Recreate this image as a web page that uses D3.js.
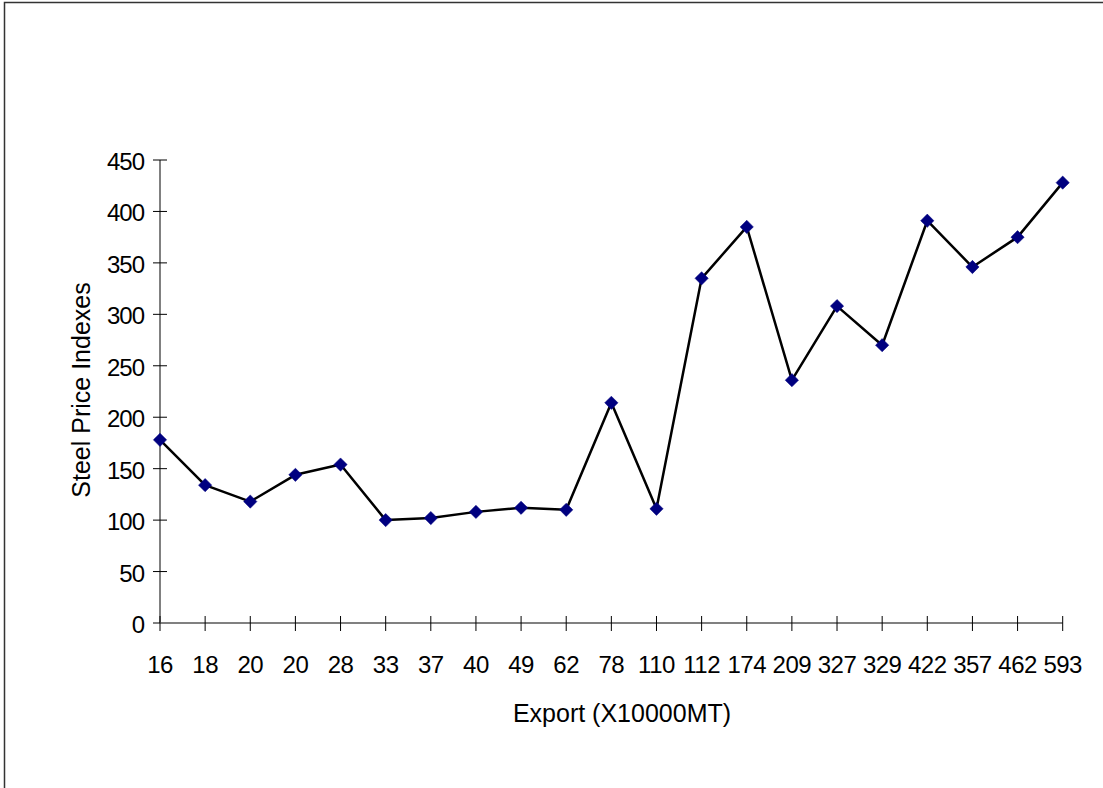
<!DOCTYPE html>
<html>
<head>
<meta charset="utf-8">
<script src="https://cdn.jsdelivr.net/npm/d3@7"></script>
<style>
  html, body { margin: 0; padding: 0; background: #fff; }
  svg { display: block; }
  text { font-family: Arial, "Liberation Sans", sans-serif; fill: #000; }
</style>
</head>
<body>
<svg id="chart" width="1103" height="788"></svg>
<script>
// Export volume (x10000 MT) used as category labels, in time order
const exportLabels = ["16","18","20","20","28","33","37","40","49","62","78","110","112","174","209","327","329","422","357","462","593"];
// Steel price index for each period
const priceIndex = [178,134,118,144,154,100,102,108,112,110,214,111,335,385,236,308,270,391,346,375,428];
const yTicks = [0,50,100,150,200,250,300,350,400,450];

const svg = d3.select("#chart");
const W = 1103, H = 788;

// frame around the chart area
svg.append("path")
  .attr("d", `M4.5,${H} V2.5 H${W}`)
  .attr("fill", "none").attr("stroke", "#333").attr("stroke-width", 1.5);

const plot = { left: 160, right: 1062.7, top: 160, bottom: 623 };

const idx = exportLabels.map((d, i) => i);
const x = d3.scalePoint().domain(idx).range([plot.left, plot.right]);
const y = d3.scaleLinear().domain([0, 450]).range([plot.bottom, plot.top]);

// Y axis
const gy = svg.append("g").attr("transform", `translate(${plot.left},0)`);
gy.append("line").attr("x1", 0).attr("x2", 0).attr("y1", y(0)).attr("y2", y(450))
  .attr("stroke", "#808080").attr("stroke-width", 2);
gy.selectAll("line.tick").data(yTicks).join("line").attr("class", "tick")
  .attr("x1", -7).attr("x2", 7).attr("y1", d => y(d)).attr("y2", d => y(d))
  .attr("stroke", "#000").attr("stroke-width", 1);
gy.selectAll("text").data(yTicks).join("text")
  .attr("x", -16).attr("y", d => y(d) + 10)
  .attr("text-anchor", "end").attr("font-size", 24)
  .attr("letter-spacing", -1)
  .text(d => d);

// X axis
const gx = svg.append("g").attr("transform", `translate(0,${plot.bottom})`);
gx.append("line").attr("x1", plot.left).attr("x2", plot.right).attr("y1", 0).attr("y2", 0)
  .attr("stroke", "#808080").attr("stroke-width", 2);
gx.selectAll("line.tick").data(idx).join("line").attr("class", "tick")
  .attr("x1", d => x(d)).attr("x2", d => x(d)).attr("y1", -7).attr("y2", 8)
  .attr("stroke", "#000").attr("stroke-width", 1);
gx.selectAll("text").data(idx).join("text")
  .attr("x", d => x(d)).attr("y", 50)
  .attr("text-anchor", "middle").attr("font-size", 24)
  .attr("letter-spacing", -0.5)
  .text(d => exportLabels[d]);

// Axis titles
svg.append("text")
  .attr("x", 622).attr("y", 722)
  .attr("text-anchor", "middle").attr("font-size", 25)
  .text("Export (X10000MT)");
svg.append("text")
  .attr("transform", "translate(90,390) rotate(-90)")
  .attr("text-anchor", "middle").attr("font-size", 25)
  .text("Steel Price Indexes");

// Series line
const line = d3.line().x((d, i) => x(i)).y(d => y(d));
svg.append("path").datum(priceIndex)
  .attr("d", line).attr("fill", "none")
  .attr("stroke", "#000").attr("stroke-width", 2.5).attr("stroke-linejoin", "round");

// Diamond markers
const diamond = d3.symbol().type(d3.symbolSquare).size(88);
svg.selectAll("path.marker").data(priceIndex).join("path").attr("class", "marker")
  .attr("d", diamond)
  .attr("transform", (d, i) => `translate(${x(i)},${y(d)}) rotate(45)`)
  .attr("fill", "#000080").attr("stroke", "#000080").attr("stroke-width", 0.5);
</script>
</body>
</html>
